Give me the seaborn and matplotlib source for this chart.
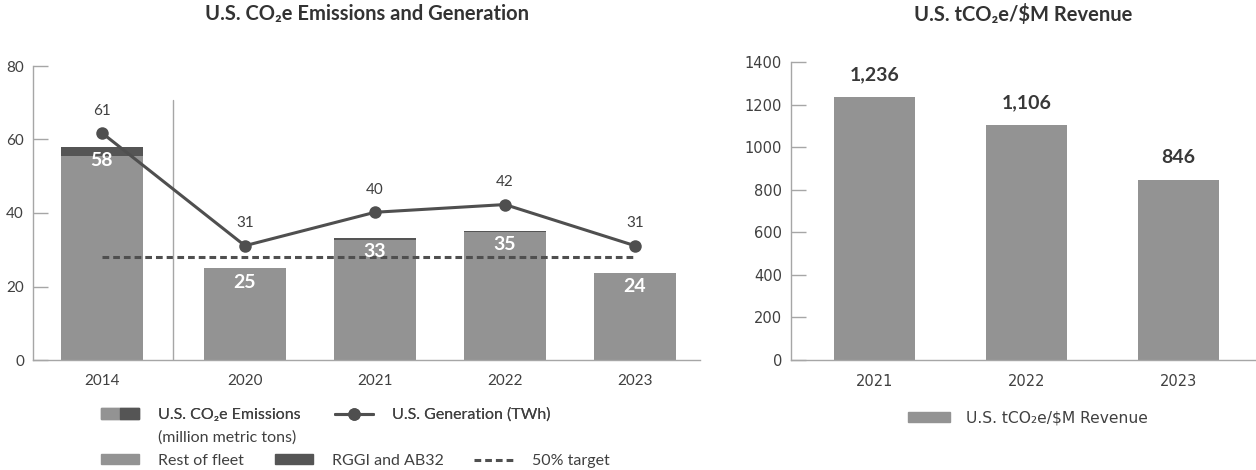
import pandas as pd
import matplotlib
matplotlib.use("Agg")
import matplotlib.pyplot as plt
import seaborn as sns
from matplotlib.patches import Patch
from matplotlib.lines import Line2D
from matplotlib.legend_handler import HandlerTuple

# left chart data
years_left = ["2014", "2020", "2021", "2022", "2023"]
x_left = [0, 1.1, 2.1, 3.1, 4.1]  # 2014 sits a bit apart from the rest
rest_of_fleet = [55.5, 25.0, 32.6, 34.8, 23.8]
rggi_ab32 = [2.5, 0.0, 0.7, 0.3, 0.0]
generation = [61.8, 31.1, 40.2, 42.3, 31.1]
target = 28

# right chart data
years_right = ["2021", "2022", "2023"]
revenue_intensity = [1236, 1106, 846]

LIGHT = "#939393"
DARK = "#555555"
LINE = "#4f4f4f"
TEXT = "#404040"
SPINE = "#a6a6a6"

sns.set_theme(style="white")
plt.rcParams["font.family"] = ["Lato", "DejaVu Sans"]

W, H = 1256, 470
fig = plt.figure(figsize=(W / 100, H / 100), dpi=100)
ax1 = fig.add_axes([33 / W, 1 - 360 / H, (700 - 33) / W, (360 - 66) / H])
ax2 = fig.add_axes([791 / W, 1 - 360 / H, (1256 - 791) / W, (360 - 62) / H])

df = pd.DataFrame({"x": x_left, "rest": rest_of_fleet, "rggi": rggi_ab32, "gen": generation})
df["total"] = df["rest"] + df["rggi"]
df["target"] = target

# stacked bars: draw the total in dark, then the rest of fleet over it
sns.barplot(data=df, x="x", y="total", native_scale=True, width=0.625, color=DARK,
            saturation=1, linewidth=0, errorbar=None, ax=ax1)
sns.barplot(data=df, x="x", y="rest", native_scale=True, width=0.625, color=LIGHT,
            saturation=1, linewidth=0, errorbar=None, ax=ax1)
sns.lineplot(data=df, x="x", y="target", color=LINE, linewidth=2.2,
             linestyle=(0, (2.2, 1.3)), ax=ax1)
sns.lineplot(data=df, x="x", y="gen", color=LINE, linewidth=2.2, marker="o",
             markersize=9, markeredgewidth=0, ax=ax1, zorder=4)

for x, t in zip(df["x"], df["total"]):
    ax1.annotate(f"{t:.0f}", (x, t), xytext=(0, -10), textcoords="offset points",
                 ha="center", va="center", fontsize=14, fontweight="bold",
                 color="white", zorder=6)
for x, g in zip(df["x"], df["gen"]):
    ax1.annotate(f"{int(g)}", (x, g), xytext=(0, 16), textcoords="offset points",
                 ha="center", va="center", fontsize=11, color=TEXT, zorder=6)

ax1.axvline((x_left[0] + x_left[1]) / 2, ymin=0, ymax=(360 - 100) / (360 - 66),
            color=SPINE, linewidth=1)

ax1.set_xlim(-0.53, 4.6)
ax1.set_ylim(0, 80)
ax1.set_yticks([0, 20, 40, 60, 80])
ax1.set_xticks(x_left, years_left)
ax1.set_xlabel("")
ax1.set_ylabel("")

# right chart
df2 = pd.DataFrame({"year": years_right, "val": revenue_intensity})
sns.barplot(data=df2, x="year", y="val", color=LIGHT, saturation=1, width=0.53,
            linewidth=0, errorbar=None, ax=ax2)
for i, v in enumerate(df2["val"]):
    ax2.annotate(f"{v:,}", (i, v), xytext=(0, 16), textcoords="offset points",
                 ha="center", va="center", fontsize=14, fontweight="bold",
                 color="#383838")
ax2.set_xlim(-0.55, 2.51)
ax2.set_ylim(0, 1400)
ax2.set_yticks(range(0, 1401, 200))
ax2.set_xlabel("")
ax2.set_ylabel("")

for ax in (ax1, ax2):
    sns.despine(ax=ax)
    for s in ("left", "bottom"):
        ax.spines[s].set_color(SPINE)
        ax.spines[s].set_linewidth(1)
    ax.tick_params(axis="y", left=True, direction="in", length=11, width=1,
                   color=SPINE, pad=6.5, labelcolor=TEXT)
    ax.tick_params(axis="x", bottom=False, length=0, pad=10, labelcolor=TEXT)

ax1.tick_params(labelsize=11)
for lab in ax2.get_xticklabels() + ax2.get_yticklabels():
    lab.set_family("DejaVu Sans")
    lab.set_fontsize(10.5)

# titles
fig.text(367 / W, 1 - 14 / H, "U.S. CO₂e Emissions and Generation", ha="center",
         va="center", fontsize=14.5, fontweight="bold", color="#333333")
fig.text(1023 / W, 1 - 14 / H, "U.S. tCO₂e/$M Revenue", ha="center",
         va="center", fontsize=14.5, fontweight="bold", color="#333333")

# legends
leg_kw = dict(loc="center left", frameon=False, fontsize=11.5, handlelength=2.4,
              handleheight=0.6, handletextpad=1.2, borderpad=0, borderaxespad=0,
              labelcolor=TEXT)
h1 = [(Patch(color=LIGHT), Patch(color=DARK)),
      Line2D([], [], color=LINE, lw=2.2, marker="o", ms=9, mew=0)]
leg1 = fig.legend(h1, ["U.S. CO₂e Emissions", "U.S. Generation (TWh)"], ncol=2,
                  columnspacing=2.1, bbox_to_anchor=(101 / W, 1 - 415 / H),
                  handler_map={tuple: HandlerTuple(ndivide=None, pad=0)}, **leg_kw)
fig.text(158 / W, 1 - 438 / H, "(million metric tons)", va="center", fontsize=11.5,
         color=TEXT)
h2 = [Patch(color=LIGHT), Patch(color=DARK),
      Line2D([], [], color=LINE, lw=2.2, linestyle=(0, (2.2, 1.3)))]
leg2 = fig.legend(h2, ["Rest of fleet", "RGGI and AB32", "50% target"], ncol=3,
                  columnspacing=1.9, bbox_to_anchor=(101 / W, 1 - 461 / H), **leg_kw)
fig.add_artist(leg1)

fig.legend([Patch(color=LIGHT)], ["U.S. tCO₂e/$M Revenue"], loc="center left",
           frameon=False, prop={"family": "DejaVu Sans", "size": 11.2},
           handlelength=2.7, handleheight=0.6, handletextpad=1.0, borderpad=0,
           borderaxespad=0, labelcolor=TEXT, bbox_to_anchor=(908 / W, 1 - 418 / H))

fig.savefig("out.png", dpi=100)
